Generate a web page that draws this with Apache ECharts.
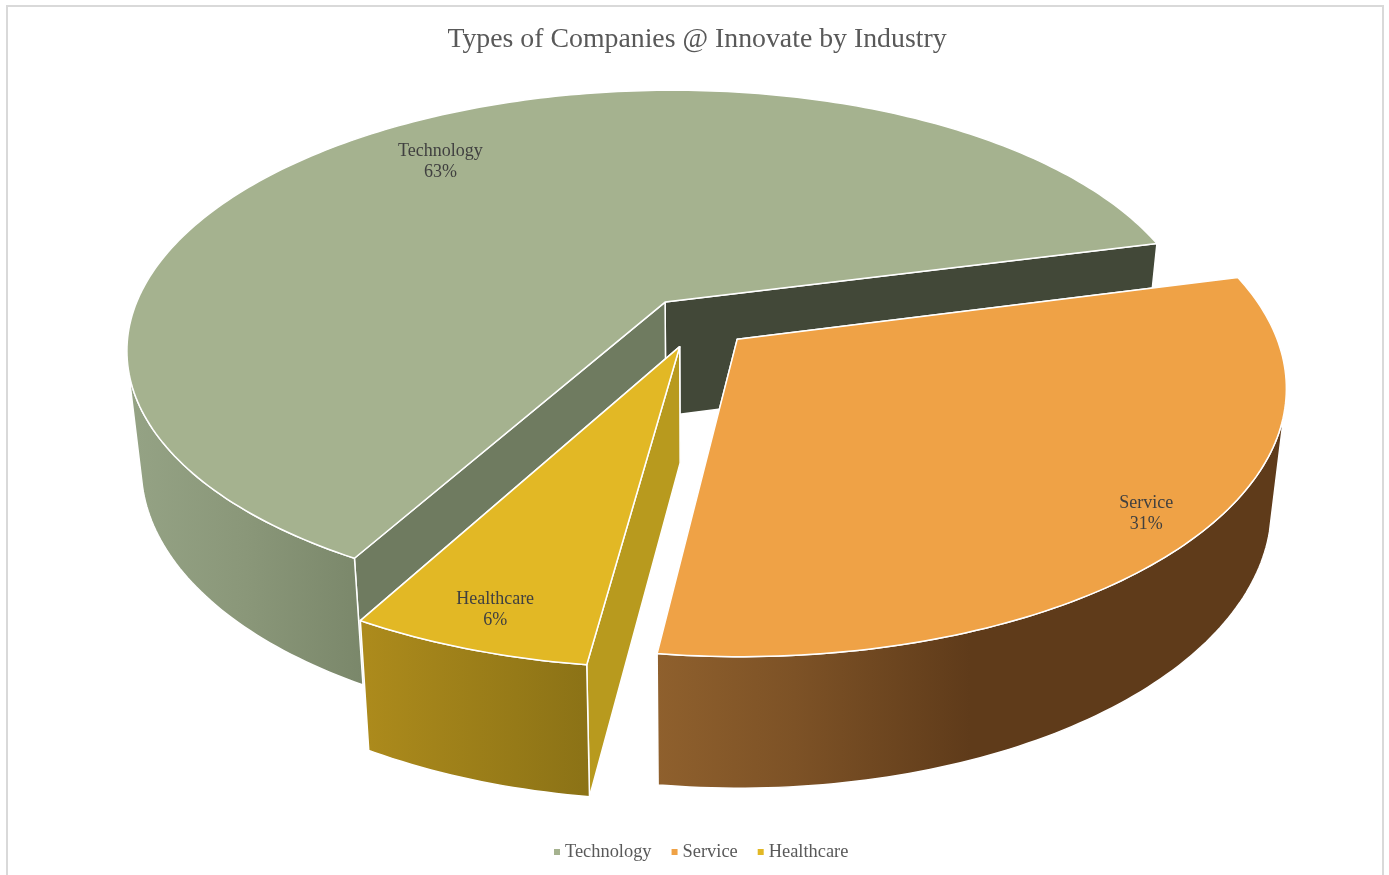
<!DOCTYPE html>
<html>
<head>
<meta charset="utf-8">
<style>html,body{margin:0;padding:0;background:#fff}#chart{width:1389px;height:875px}</style>
<script src="https://cdn.jsdelivr.net/npm/echarts@6/dist/echarts.min.js"></script>
</head>
<body>
<div id="chart"></div>
<script>
// Share of companies per industry, in percent
var sliceNames = ['Technology', 'Service', 'Healthcare'];
var sliceShares = [63, 31, 6];

var FONT = '"Liberation Serif", serif';
var WHITE_EDGE = '#ffffff';

// Per-slice palette: lit top face, cut faces, shaded rim
var palette = [
  { top: '#a5b28f', cutStart: '#6f7b60', cutEnd: '#424838',
    rim: [[0, '#95a385'], [0.5, '#8a9779'], [1, '#7a876a']] },
  { top: '#efa246', cutStart: '#5f3b1a', cutEnd: '#5f3b1a',
    rim: [[0, '#8f602d'], [0.22, '#7d5226'], [0.5, '#5f3b1a'], [1, '#5f3b1a']] },
  { top: '#e2b825', cutStart: '#b89a1e', cutEnd: '#b89a1e',
    rim: [[0, '#ad8b1c'], [1, '#8b7216']] }
];

// Camera model of the tilted, exploded pie (disc radius = 1)
var view = {
  cx: 697, cy: 322, a: 534.6, b: 255.3, perspective: 0.175, skewX: -9, skewY: 2.5,
  taper: 0.025, depth: 115, depthGrowth: 72,
  firstAngle: 208.4, explode: 0.1,
  rimFrom: 105, rimTo: 255
};

function project(u, v, z) {
  var s = 1 / (1 - view.perspective * v);
  return [
    view.cx + (view.a * u + view.skewX * v) * s * (1 - view.taper * z),
    view.cy + (view.b * v + view.skewY * u) * s + z * (view.depth + view.depthGrowth * (s - 1))
  ];
}

// Angles run clockwise from the far side of the disc
function sliceGeometry(index) {
  var total = sliceShares.reduce(function (t, x) { return t + x; }, 0);
  var start = view.firstAngle;
  for (var i = 0; i < index; i++) start += sliceShares[i] / total * 360;
  start = start % 360;
  var sweep = sliceShares[index] / total * 360;
  var mid = (start + sweep / 2) * Math.PI / 180;
  return {
    start: start, sweep: sweep, mid: mid,
    ou: view.explode * Math.sin(mid),
    ov: -view.explode * Math.cos(mid)
  };
}

function arcPoint(g, deg, radius, z) {
  var t = deg * Math.PI / 180;
  return project(g.ou + radius * Math.sin(t), g.ov - radius * Math.cos(t), z);
}

function arcRun(g, from, to, z) {
  var pts = [];
  for (var d = from; d < to; d += 1) pts.push(arcPoint(g, d, 1, z));
  pts.push(arcPoint(g, to, 1, z));
  return pts;
}

function face(points, fill) {
  return { type: 'polygon', shape: { points: points },
    style: { fill: fill, stroke: WHITE_EDGE, lineWidth: 1.5, lineJoin: 'round' } };
}

function renderSlice(index, labelRadius) {
  return function (params, api) {
    var share = api.value(0);
    var g = sliceGeometry(index);
    var colors = palette[index];
    var end = g.start + g.sweep;
    var apexTop = project(g.ou, g.ov, 0);
    var apexBottom = project(g.ou, g.ov, 1);

    // Rim: only the stretch of arc facing the viewer
    var rimFrom = Math.max(g.start, view.rimFrom), rimTo = Math.min(end, view.rimTo);
    var rimPoints = arcRun(g, rimFrom, rimTo, 0).concat(arcRun(g, rimFrom, rimTo, 1).reverse());

    var rimFill = new echarts.graphic.LinearGradient(0, 0, 1, 0,
      colors.rim.map(function (s) { return { offset: s[0], color: s[1] }; }));

    var label = arcPoint(g, g.start + g.sweep / 2, labelRadius, 0);

    // Painted back to front: cut faces, rim, then the top face and its label
    return {
      type: 'group',
      children: [
        face([apexTop, arcPoint(g, end, 1, 0), arcPoint(g, end, 1, 1), apexBottom], colors.cutEnd),
        face([apexTop, arcPoint(g, g.start, 1, 0), arcPoint(g, g.start, 1, 1), apexBottom], colors.cutStart),
        face(rimPoints, rimFill),
        face([apexTop].concat(arcRun(g, g.start, end, 0)), colors.top),
        { type: 'text', style: {
            text: sliceNames[index] + '\n' + share + '%',
            x: label[0], y: label[1], align: 'center', verticalAlign: 'middle',
            fontFamily: FONT, fontSize: 18, lineHeight: 21, fill: '#404040' } }
      ]
    };
  };
}

var labelRadii = [0.79, 0.9, 0.89];

var chart = echarts.init(document.getElementById('chart'), null, { renderer: 'canvas' });
chart.setOption({
  animation: false,
  backgroundColor: '#ffffff',
  title: {
    text: 'Types of Companies @ Innovate by Industry',
    left: 692, top: 21, textAlign: 'center',
    textStyle: { fontFamily: FONT, fontSize: 27.8, fontWeight: 'normal', color: '#595959' }
  },
  legend: {
    data: sliceNames, left: 549, bottom: 9, icon: 'rect',
    itemWidth: 6, itemHeight: 6, itemGap: 20,
    textStyle: { fontFamily: FONT, fontSize: 18.4, color: '#595959' }
  },
  graphic: [{
    type: 'rect', silent: true, z: -1,
    shape: { x: 7, y: 6, width: 1376, height: 900 },
    style: { fill: 'none', stroke: '#d9d9d9', lineWidth: 2 }
  }],
  series: sliceNames.map(function (name, i) {
    return {
      type: 'custom', name: name, coordinateSystem: 'none', silent: true, clip: false,
      itemStyle: { color: palette[i].top },
      data: [[sliceShares[i]]],
      renderItem: renderSlice(i, labelRadii[i])
    };
  })
});
</script>
</body>
</html>
